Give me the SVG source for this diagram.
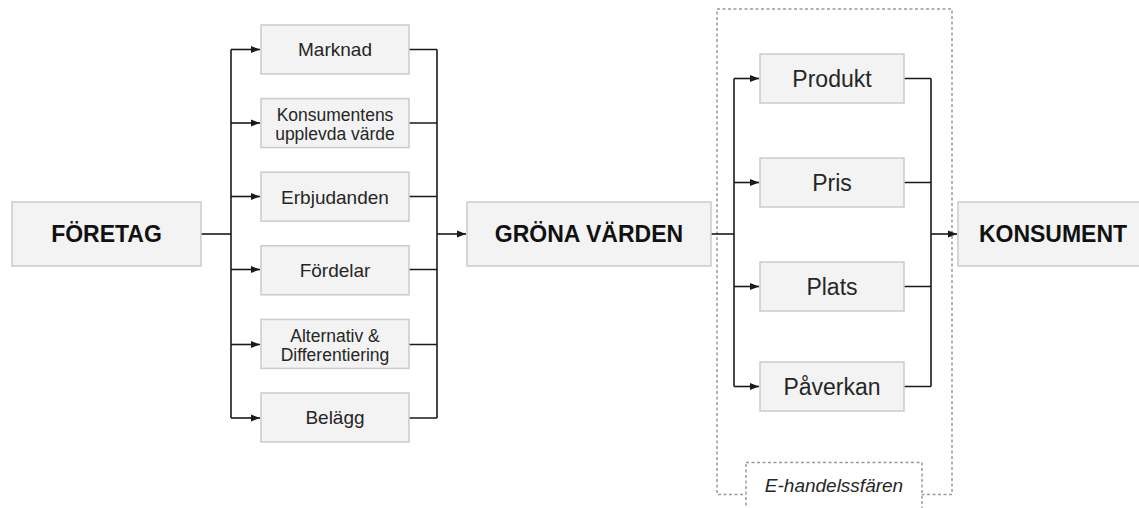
<svg xmlns="http://www.w3.org/2000/svg" width="1139" height="508" viewBox="0 0 1139 508">
<defs>
<marker id="arr" markerWidth="10" markerHeight="8" refX="9" refY="4" orient="auto" markerUnits="userSpaceOnUse">
<path d="M0,0.5 L9,4 L0,7.5 Z" fill="#1a1a1a"/>
</marker>
<style>
.box{fill:#f3f3f3;stroke:#cbcbcb;stroke-width:1.5}
.t{font-family:"Liberation Sans",Arial,sans-serif;fill:#262626;text-anchor:middle}
.s{font-size:19px}
.s2{font-size:17.5px}
.m{font-size:23px}
.b{font-size:23px;font-weight:bold;fill:#111}
.c{fill:none;stroke:#1a1a1a;stroke-width:1.6}
.dash{fill:none;stroke:#9a9a9a;stroke-width:1.5;stroke-dasharray:3 2.5}
.lbl{font-family:"Liberation Sans",Arial,sans-serif;font-style:italic;font-size:19px;fill:#262626;text-anchor:middle}
</style>
</defs>
<rect width="1139" height="508" fill="#ffffff"/>

<g id="sphere">
<rect class="dash" x="717" y="9" width="235" height="485.5"/>
</g>

<g id="connectors">
<path class="c" d="M201,234 H231"/>
<path class="c" d="M231,49.5 V418"/>
<path class="c" d="M231,49.5 H260" marker-end="url(#arr)"/>
<path class="c" d="M231,123 H260" marker-end="url(#arr)"/>
<path class="c" d="M231,196.5 H260" marker-end="url(#arr)"/>
<path class="c" d="M231,269.5 H260" marker-end="url(#arr)"/>
<path class="c" d="M231,344.5 H260" marker-end="url(#arr)"/>
<path class="c" d="M231,418 H260" marker-end="url(#arr)"/>
<path class="c" d="M409,49.5 H437 M409,123 H437 M409,196.5 H437 M409,269.5 H437 M409,344.5 H437 M409,418 H437"/>
<path class="c" d="M437,49.5 V418"/>
<path class="c" d="M437,234 H466" marker-end="url(#arr)"/>
<path class="c" d="M711,234 H734"/>
<path class="c" d="M734,78.5 V386.5"/>
<path class="c" d="M734,78.5 H759" marker-end="url(#arr)"/>
<path class="c" d="M734,182.5 H759" marker-end="url(#arr)"/>
<path class="c" d="M734,286.5 H759" marker-end="url(#arr)"/>
<path class="c" d="M734,386.5 H759" marker-end="url(#arr)"/>
<path class="c" d="M904,78.5 H931 M904,182.5 H931 M904,286.5 H931 M904,386.5 H931"/>
<path class="c" d="M931,78.5 V386.5"/>
<path class="c" d="M931,234 H957" marker-end="url(#arr)"/>
</g>

<g id="foretag">
<rect class="box" x="12" y="202" width="189" height="64"/>
<text class="t b" x="106.5" y="242.2">FÖRETAG</text>
</g>

<g id="marknad">
<rect class="box" x="261" y="25" width="148" height="49"/>
<text class="t s" x="335" y="56.3">Marknad</text>
</g>
<g id="konsumentens">
<rect class="box" x="261" y="98.6" width="148" height="49"/>
<text class="t s2" x="335" y="121">Konsumentens</text>
<text class="t s2" x="335" y="140">upplevda värde</text>
</g>
<g id="erbjudanden">
<rect class="box" x="261" y="172.2" width="148" height="49"/>
<text class="t s" x="335" y="203.5">Erbjudanden</text>
</g>
<g id="fordelar">
<rect class="box" x="261" y="245.8" width="148" height="49"/>
<text class="t s" x="335" y="277">Fördelar</text>
</g>
<g id="alternativ">
<rect class="box" x="261" y="319.4" width="148" height="49"/>
<text class="t s2" x="335" y="341.5">Alternativ &amp;</text>
<text class="t s2" x="335" y="361">Differentiering</text>
</g>
<g id="belagg">
<rect class="box" x="261" y="393" width="148" height="49"/>
<text class="t s" x="335" y="424.3">Belägg</text>
</g>

<g id="grona">
<rect class="box" x="467" y="202" width="244" height="64"/>
<text class="t b" x="589" y="242.2">GRÖNA VÄRDEN</text>
</g>

<g id="produkt">
<rect class="box" x="760" y="54" width="144" height="49"/>
<text class="t m" x="832" y="86.7">Produkt</text>
</g>
<g id="pris">
<rect class="box" x="760" y="158" width="144" height="49"/>
<text class="t m" x="832" y="190.7">Pris</text>
</g>
<g id="plats">
<rect class="box" x="760" y="262" width="144" height="49"/>
<text class="t m" x="832" y="294.7">Plats</text>
</g>
<g id="paverkan">
<rect class="box" x="760" y="362" width="144" height="49"/>
<text class="t m" x="832" y="394.7">Påverkan</text>
</g>

<g id="konsument">
<rect class="box" x="958" y="202" width="190" height="64"/>
<text class="t b" x="1053" y="242.2">KONSUMENT</text>
</g>

<g id="label">
<rect class="dash" x="746" y="462.5" width="176" height="60" style="fill:#ffffff"/>
<text class="lbl" x="834" y="492">E-handelssfären</text>
</g>
</svg>
